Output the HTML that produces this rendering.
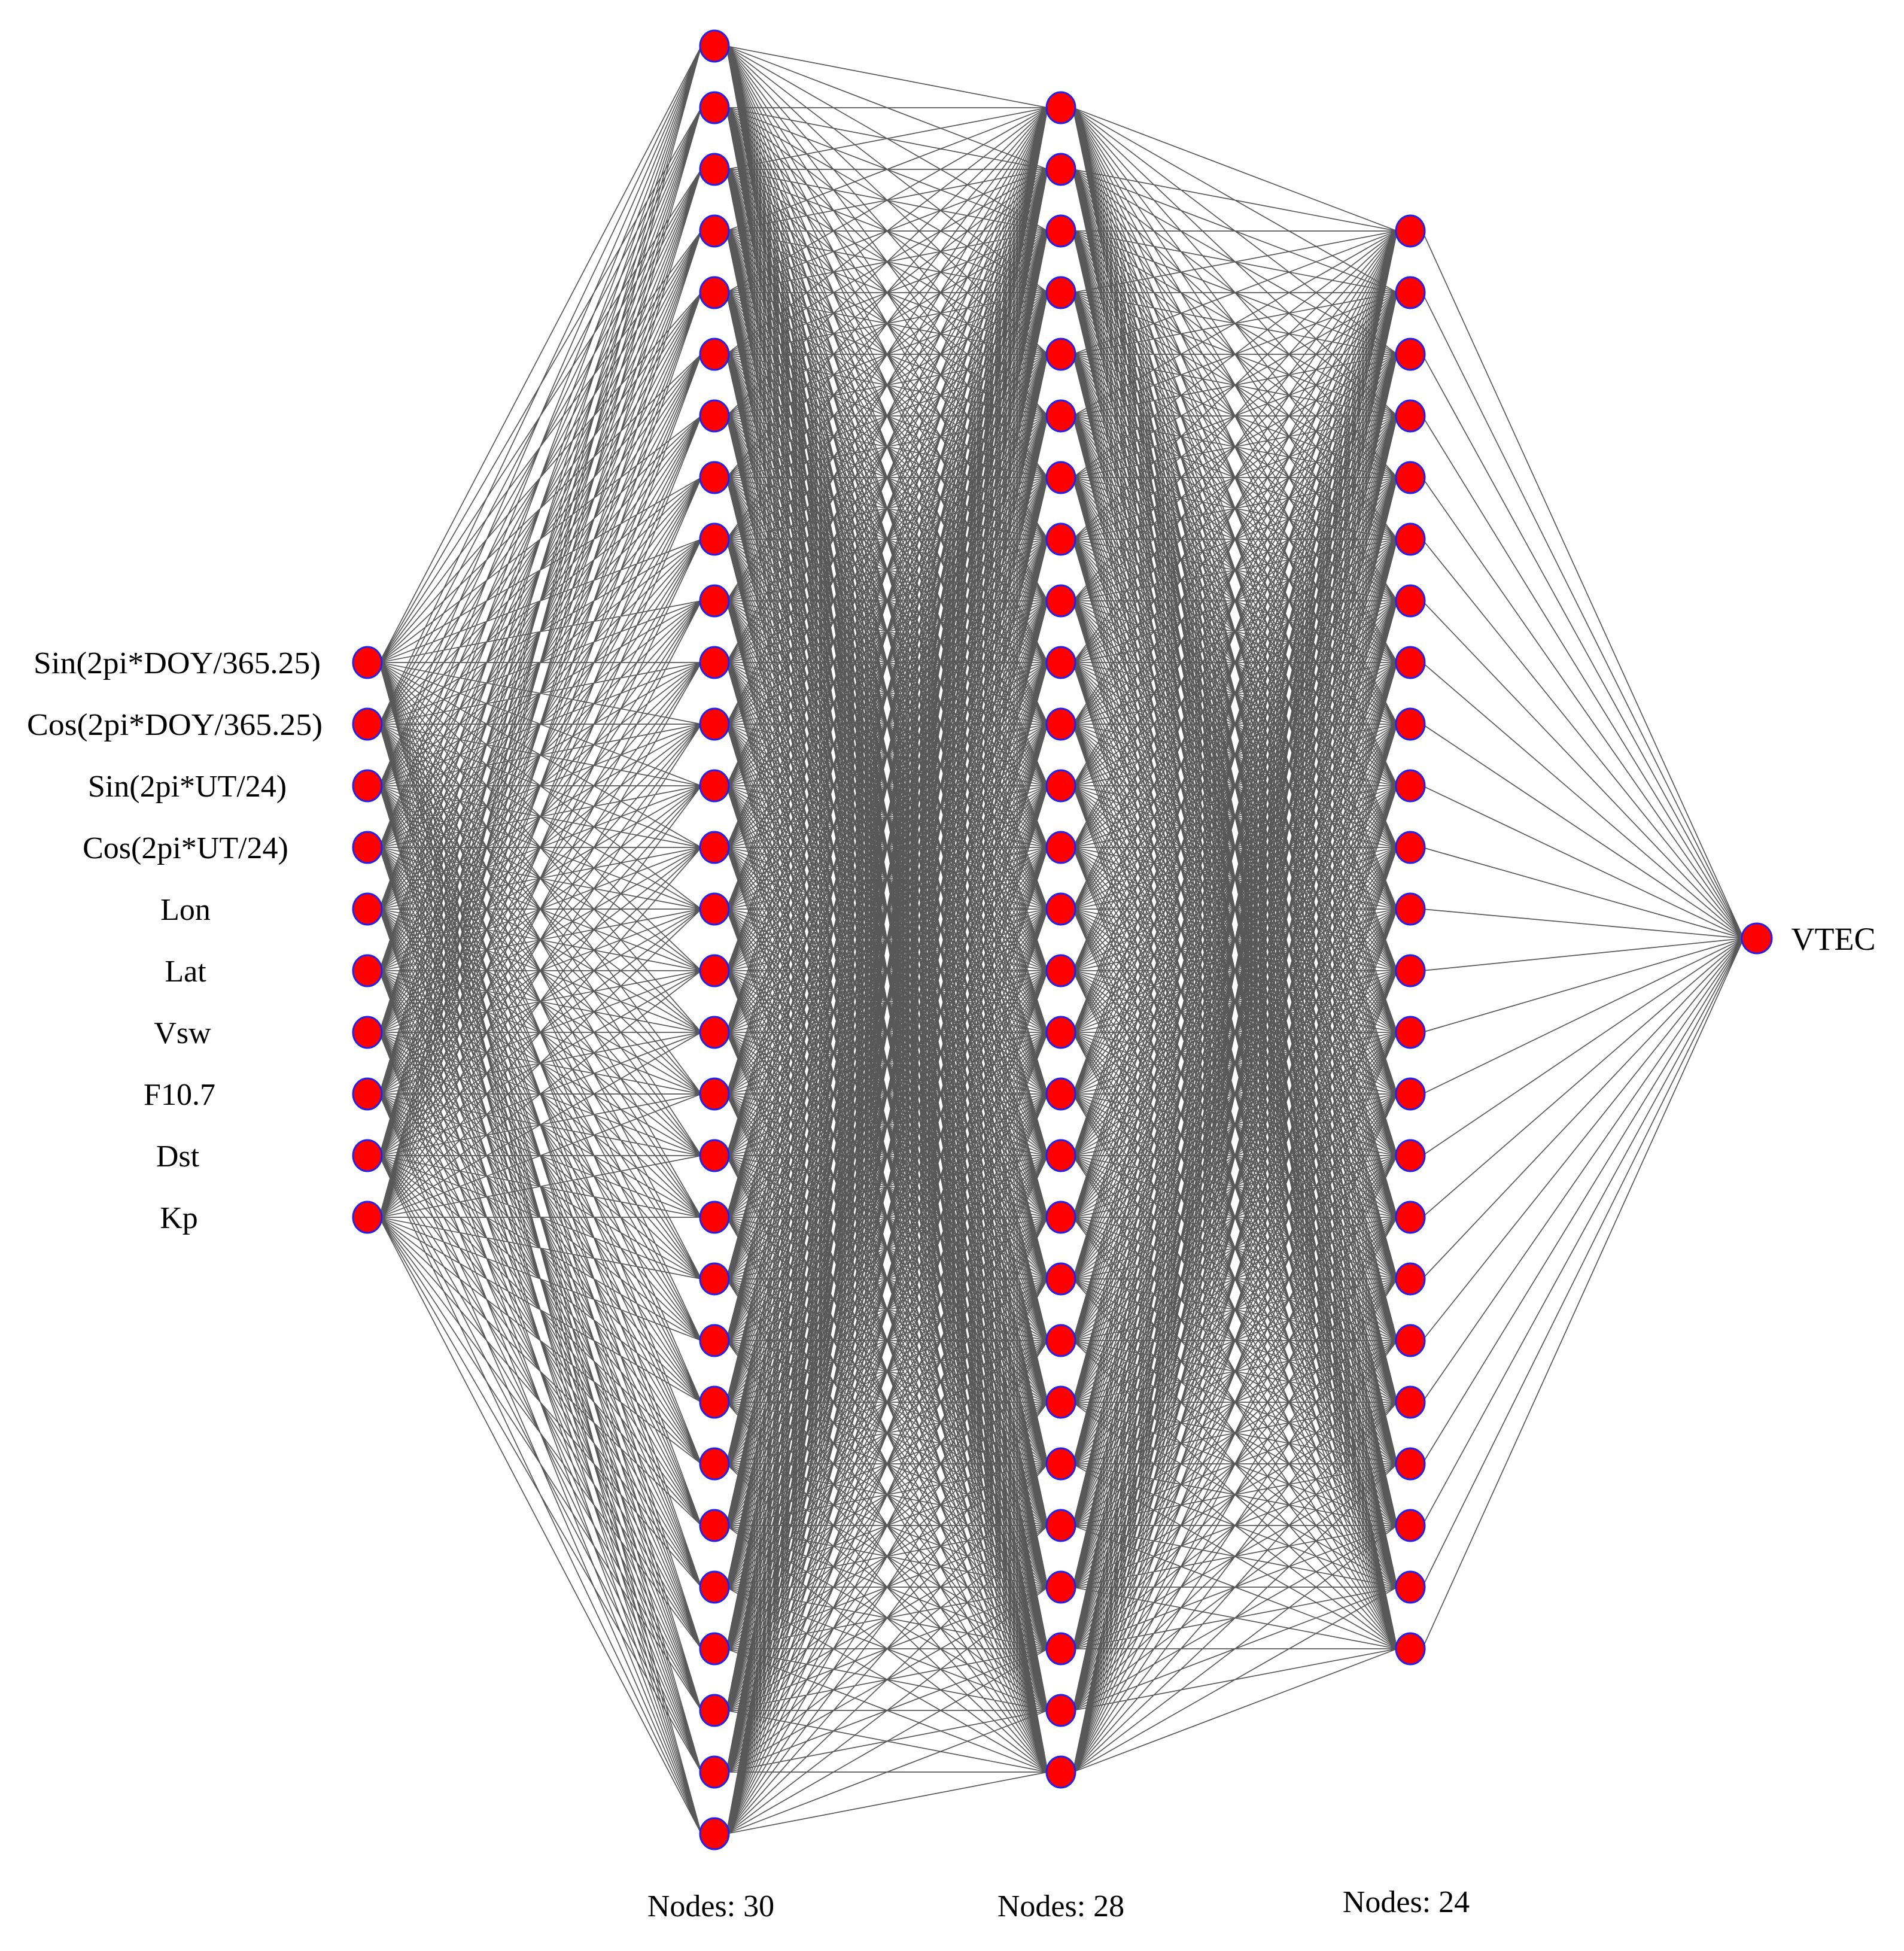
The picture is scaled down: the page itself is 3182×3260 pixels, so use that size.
<!DOCTYPE html>
<html><head><meta charset="utf-8"><style>
html,body{margin:0;padding:0;background:#fff;}
svg{display:block;}
text{font-family:"Liberation Serif",serif;fill:#000;}
</style></head><body>
<svg id="s" width="3182" height="3260" viewBox="0 0 3182 3260" xmlns="http://www.w3.org/2000/svg">
<rect width="3182" height="3260" fill="#fff"/>
<g id="edges" stroke="#111" stroke-width="1.7" stroke-opacity="0.7" fill="none"></g>
<g id="nodes" fill="#ff0000" stroke="#2222ee" stroke-width="3"></g>
<g font-size="52" text-anchor="middle">
<text x="296" y="1125" textLength="480" lengthAdjust="spacingAndGlyphs">Sin(2pi*DOY/365.25)</text>
<text x="292" y="1228" textLength="494" lengthAdjust="spacingAndGlyphs">Cos(2pi*DOY/365.25)</text>
<text x="313" y="1331">Sin(2pi*UT/24)</text>
<text x="310" y="1434">Cos(2pi*UT/24)</text>
<text x="310" y="1537">Lon</text>
<text x="310" y="1640">Lat</text>
<text x="305" y="1743">Vsw</text>
<text x="300" y="1846">F10.7</text>
<text x="297" y="1949">Dst</text>
<text x="299" y="2052">Kp</text>
<text x="3064" y="1587" font-size="54">VTEC</text>
<text x="1188" y="3202" font-size="52">Nodes: 30</text>
<text x="1773" y="3202" font-size="52">Nodes: 28</text>
<text x="2350" y="3195" font-size="52">Nodes: 24</text>
</g>
</svg>
<script>
(function(){
var NS="http://www.w3.org/2000/svg";
var sp=103;
function col(x,y0,n){var a=[];for(var i=0;i<n;i++)a.push([x,y0+sp*i]);return a;}
var L=[col(614,1107,10),col(1194,77,30),col(1773,180,28),col(2357,386,24),[[2936,1568]]];
var e=document.getElementById("edges"),nd=document.getElementById("nodes");
var d="";
for(var k=0;k<L.length-1;k++){
 var A=L[k],B=L[k+1];
 for(var i=0;i<A.length;i++)for(var j=0;j<B.length;j++){
  d+="M"+(A[i][0]+20)+" "+A[i][1]+"L"+(B[j][0]-22)+" "+B[j][1];
 }
}
var p=document.createElementNS(NS,"path");p.setAttribute("d",d);e.appendChild(p);
for(var k=0;k<L.length;k++)for(var i=0;i<L[k].length;i++){
 var c=document.createElementNS(NS,"ellipse");
 c.setAttribute("cx",L[k][i][0]);c.setAttribute("cy",L[k][i][1]);
 c.setAttribute("rx",k==4?25:24);c.setAttribute("ry",k==4?25:26);
 nd.appendChild(c);
}
})();
</script>
</body></html>
